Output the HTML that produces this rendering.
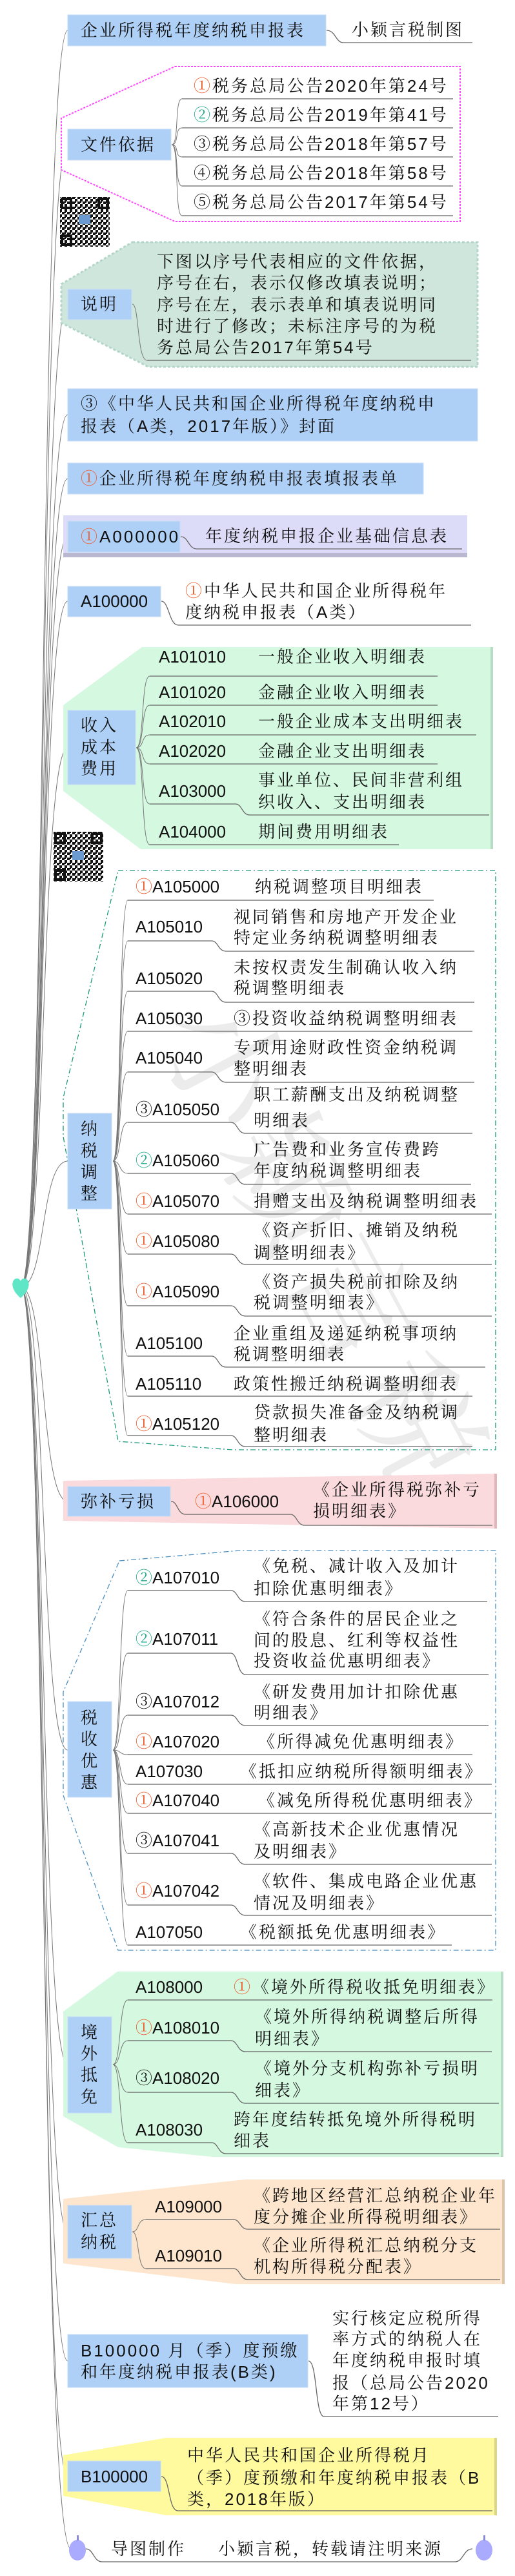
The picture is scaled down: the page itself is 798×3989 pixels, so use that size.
<!DOCTYPE html>
<html><head><meta charset="utf-8">
<style>
html,body{margin:0;padding:0;background:#fff;}
svg{display:block}
text{font-family:"Liberation Sans","Noto Serif CJK SC","Noto Sans CJK SC",serif;font-size:26px;letter-spacing:3px;dominant-baseline:central;fill:#111}
.o{fill:#f05a28}.g{fill:#1aaa88}
.ln{fill:none;stroke:#666;stroke-width:1.3}
.cn{fill:none;stroke:#777;stroke-width:1}
.bx{fill:#afd0f6;stroke:#c8dcf4;stroke-width:1}
</style></head><body>
<svg width="798" height="3989" viewBox="0 0 798 3989" xmlns="http://www.w3.org/2000/svg">
<defs>
<pattern id="qr" width="8" height="8" patternUnits="userSpaceOnUse">
<rect width="8" height="8" fill="#fff"/><rect x="0" y="0" width="4" height="4" fill="#111"/><rect x="4" y="4" width="4" height="4" fill="#111"/><rect x="4" y="0" width="2" height="2" fill="#111"/>
</pattern>
</defs>
<!-- watermark -->
<g fill="#ececec" opacity="0.9">
<text x="0" y="0" transform="translate(300,1560) rotate(62)" style="font-size:200px;fill:#ebebeb;letter-spacing:10px">小颖言税</text>
</g>

<!-- trunk connectors from root -->
<g class="cn">
<path d="M32,1993 C72,1993 62,47 105,47"/>
<path d="M32,1993 C72,1993 62,224 105,224"/>
<path d="M32,1993 C72,1993 62,471 105,471"/>
<path d="M32,1993 C72,1993 62,642 105,642"/>
<path d="M32,1993 C72,1993 62,741 105,741"/>
<path d="M32,1993 C72,1993 62,831 105,831"/>
<path d="M32,1993 C72,1993 62,931 105,931"/>
<path d="M32,1993 C72,1993 62,1158 105,1158"/>
<path d="M32,1993 C72,1993 62,1798 105,1798"/>
<path d="M32,1993 C72,1993 62,2325 105,2325"/>
<path d="M32,1993 C72,1993 62,2710 105,2710"/>
<path d="M32,1993 C72,1993 62,3197 105,3197"/>
<path d="M32,1993 C72,1993 62,3456 105,3456"/>
<path d="M32,1993 C72,1993 62,3656 105,3656"/>
<path d="M32,1993 C72,1993 62,3835 105,3835"/>
<path d="M32,1993 C72,1993 62,3947 110,3947"/>
</g>
<!-- root heart -->
<path d="M32,2010 C20,2000 18,1990 20,1985 C22,1978 30,1978 32,1984 C34,1978 42,1978 44,1985 C46,1990 44,2000 32,2010 Z" fill="#5ee6c6"/>

<!-- title -->
<rect x="105" y="23" width="400" height="48" class="bx"/>
<text x="125" y="47">企业所得税年度纳税申报表</text>
<path class="ln" d="M506,47 C520,47 520,66 532,66 H732"/>
<text x="545" y="46">小颖言税制图</text>

<!-- 文件依据 -->
<polygon points="271,103 713,103 713,343 271,343 95,263 95,183" fill="#fff" stroke="#ff44ff" stroke-width="2" stroke-dasharray="3 2"/>
<rect x="105" y="200" width="160" height="48" class="bx"/>
<text x="125" y="224">文件依据</text>
<g class="cn">
<path d="M266,224 C278,224 270,153 282,153"/><path d="M266,224 C278,224 270,198 282,198"/><path d="M266,224 C278,224 270,243 282,243"/><path d="M266,224 C278,224 270,288 282,288"/><path d="M266,224 C278,224 270,334 282,334"/>
</g>
<g class="ln"><path d="M282,153H702"/><path d="M282,198H702"/><path d="M282,243H702"/><path d="M282,288H702"/><path d="M282,334H702"/></g>
<text x="300" y="133"><tspan class="o">①</tspan>税务总局公告2020年第24号</text>
<text x="300" y="178"><tspan class="g">②</tspan>税务总局公告2019年第41号</text>
<text x="300" y="223">③税务总局公告2018年第57号</text>
<text x="300" y="268">④税务总局公告2018年第58号</text>
<text x="300" y="313">⑤税务总局公告2017年第54号</text>

<!-- QR 1 -->
<rect x="93" y="305" width="77" height="77" fill="url(#qr)"/>
<g fill="none" stroke="#111" stroke-width="4"><rect x="96" y="308" width="14" height="14"/><rect x="153" y="308" width="14" height="14"/><rect x="96" y="365" width="14" height="14"/></g>
<rect x="122" y="333" width="18" height="14" fill="#6a9ad0"/>

<!-- 说明 -->
<polygon points="205,375 740,375 740,568 230,568 95,500 95,440" fill="#cfe6dc" stroke="#b4d6c8" stroke-width="3" stroke-dasharray="4 3"/>
<rect x="105" y="448" width="99" height="47" class="bx"/>
<text x="125" y="471">说明</text>
<path class="cn" d="M205,471 C216,471 212,558 228,558"/>
<path class="ln" d="M228,558H730"/>
<text x="243" y="405">下图以序号代表相应的文件依据，</text>
<text x="243" y="438">序号在右，表示仅修改填表说明；</text>
<text x="243" y="472">序号在左，表示表单和填表说明同</text>
<text x="243" y="505">时进行了修改；未标注序号的为税</text>
<text x="243" y="538">务总局公告2017年第54号</text>

<!-- ③ 封面 -->
<rect x="105" y="602" width="635" height="81" class="bx"/>
<text x="125" y="625">③《中华人民共和国企业所得税年度纳税申</text>
<text x="125" y="660">报表（A类，2017年版）》封面</text>

<!-- 填报表单 -->
<rect x="105" y="717" width="551" height="48" class="bx"/>
<text x="125" y="741"><tspan class="o">①</tspan>企业所得税年度纳税申报表填报表单</text>

<!-- A000000 -->
<rect x="98" y="798" width="626" height="65" fill="#dcdcf8"/>
<rect x="98" y="856" width="626" height="7" fill="#b8b8d0"/>
<rect x="105" y="807" width="174" height="48" class="bx"/>
<text x="125" y="831"><tspan class="o">①</tspan>A000000</text>
<path class="ln" d="M280,831 C292,831 292,850 305,850 H716"/>
<text x="318" y="830">年度纳税申报企业基础信息表</text>

<!-- A100000 -->
<rect x="105" y="908" width="144" height="47" class="bx"/>
<text x="125" y="931" style="letter-spacing:0">A100000</text>
<path class="ln" d="M250,931 C262,931 262,968 276,968 H730"/>
<text x="287" y="915"><tspan class="o">①</tspan>中华人民共和国企业所得税年</text>
<text x="287" y="948">度纳税申报表（A类）</text>

<!-- 收入成本费用 -->
<polygon points="220,1002 763,1002 763,1315 218,1315 98,1225 98,1092" fill="#d4f8e0"/>
<rect x="760" y="1002" width="4" height="313" fill="#b8dcc4"/>
<rect x="105" y="1100" width="105" height="115" class="bx"/>
<text x="125" y="1123">收入</text><text x="125" y="1157">成本</text><text x="125" y="1190">费用</text>
<g class="cn">
<path d="M211,1158 C224,1158 218,1047 232,1047"/><path d="M211,1158 C224,1158 218,1092 232,1092"/><path d="M211,1158 C224,1158 218,1138 232,1138"/><path d="M211,1158 C224,1158 218,1183 232,1183"/><path d="M211,1158 C224,1158 218,1245 232,1245"/><path d="M211,1158 C224,1158 218,1308 232,1308"/>
</g>
<g class="ln"><path d="M232,1047H678"/><path d="M232,1092H678"/><path d="M232,1138H738"/><path d="M232,1183H678"/><path d="M232,1245H365 C375,1245 375,1262 387,1262 H758"/><path d="M232,1308H618"/></g>
<g style="letter-spacing:0">
<text x="246" y="1017" style="letter-spacing:0">A101010</text>
<text x="246" y="1072" style="letter-spacing:0">A101020</text>
<text x="246" y="1117" style="letter-spacing:0">A102010</text>
<text x="246" y="1163" style="letter-spacing:0">A102020</text>
<text x="246" y="1225" style="letter-spacing:0">A103000</text>
<text x="246" y="1288" style="letter-spacing:0">A104000</text>
</g>
<text x="400" y="1017">一般企业收入明细表</text>
<text x="400" y="1072">金融企业收入明细表</text>
<text x="400" y="1117">一般企业成本支出明细表</text>
<text x="400" y="1163">金融企业支出明细表</text>
<text x="400" y="1208">事业单位、民间非营利组</text>
<text x="400" y="1242">织收入、支出明细表</text>
<text x="400" y="1288">期间费用明细表</text>

<!-- QR 2 -->
<rect x="83" y="1288" width="77" height="77" fill="url(#qr)"/>
<g fill="none" stroke="#111" stroke-width="4"><rect x="86" y="1291" width="14" height="14"/><rect x="143" y="1291" width="14" height="14"/><rect x="86" y="1348" width="14" height="14"/></g>
<rect x="112" y="1318" width="18" height="14" fill="#6a9ad0"/>

<!-- 纳税调整 -->
<path d="M183,1348 H768 V2245 H360 L183,2232 L98,1760 L98,1700 Z" fill="none" stroke="#1a9a7a" stroke-width="1.3" stroke-dasharray="8 4 2 4"/>
<rect x="105" y="1724" width="68" height="148" class="bx"/>
<text x="125" y="1748">纳</text><text x="125" y="1782">税</text><text x="125" y="1815">调</text><text x="125" y="1848">整</text>
<g class="cn">
<path d="M175,1798 C188,1798 184,1394 198,1394"/><path d="M175,1798 C188,1798 184,1457 198,1457"/><path d="M175,1798 C188,1798 184,1535 198,1535"/><path d="M175,1798 C188,1798 184,1597 198,1597"/><path d="M175,1798 C188,1798 184,1660 198,1660"/><path d="M175,1798 C188,1798 184,1738 198,1738"/><path d="M175,1798 C188,1798 184,1817 198,1817"/><path d="M175,1798 C188,1798 184,1880 198,1880"/><path d="M175,1798 C188,1798 184,1942 198,1942"/><path d="M175,1798 C188,1798 184,2022 198,2022"/><path d="M175,1798 C188,1798 184,2100 198,2100"/><path d="M175,1798 C188,1798 184,2162 198,2162"/><path d="M175,1798 C188,1798 184,2223 198,2223"/>
</g>
<g class="ln">
<path d="M198,1394H672"/>
<path d="M198,1457H328 C338,1457 338,1473 350,1473 H735"/>
<path d="M198,1535H328 C338,1535 338,1552 350,1552 H735"/>
<path d="M198,1597H732"/>
<path d="M198,1660H328 C338,1660 338,1676 350,1676 H735"/>
<path d="M198,1738H358 C368,1738 368,1755 380,1755 H732"/>
<path d="M198,1817H358 C368,1817 368,1834 380,1834 H730"/>
<path d="M198,1880H762"/>
<path d="M198,1942H358 C368,1942 368,1958 380,1958 H762"/>
<path d="M198,2022H358 C368,2022 368,2038 380,2038 H762"/>
<path d="M198,2100H328 C338,2100 338,2117 350,2117 H752"/>
<path d="M198,2162H732"/>
<path d="M198,2223H358 C368,2223 368,2240 380,2240 H732"/>
</g>
<g>
<text x="210" y="1373" style="letter-spacing:0"><tspan class="o">①</tspan>A105000</text>
<text x="210" y="1435" style="letter-spacing:0">A105010</text>
<text x="210" y="1515" style="letter-spacing:0">A105020</text>
<text x="210" y="1577" style="letter-spacing:0">A105030</text>
<text x="210" y="1638" style="letter-spacing:0">A105040</text>
<text x="210" y="1718" style="letter-spacing:0">③A105050</text>
<text x="210" y="1797" style="letter-spacing:0"><tspan class="g">②</tspan>A105060</text>
<text x="210" y="1860" style="letter-spacing:0"><tspan class="o">①</tspan>A105070</text>
<text x="210" y="1922" style="letter-spacing:0"><tspan class="o">①</tspan>A105080</text>
<text x="210" y="2000" style="letter-spacing:0"><tspan class="o">①</tspan>A105090</text>
<text x="210" y="2080" style="letter-spacing:0">A105100</text>
<text x="210" y="2143" style="letter-spacing:0">A105110</text>
<text x="210" y="2205" style="letter-spacing:0"><tspan class="o">①</tspan>A105120</text>
</g>
<text x="395" y="1373">纳税调整项目明细表</text>
<text x="362" y="1420">视同销售和房地产开发企业</text><text x="362" y="1452">特定业务纳税调整明细表</text>
<text x="362" y="1498">未按权责发生制确认收入纳</text><text x="362" y="1530">税调整明细表</text>
<text x="362" y="1577">③投资收益纳税调整明细表</text>
<text x="362" y="1622">专项用途财政性资金纳税调</text><text x="362" y="1655">整明细表</text>
<text x="393" y="1695">职工薪酬支出及纳税调整</text><text x="393" y="1735">明细表</text>
<text x="393" y="1780">广告费和业务宣传费跨</text><text x="393" y="1813">年度纳税调整明细表</text>
<text x="393" y="1860">捐赠支出及纳税调整明细表</text>
<text x="393" y="1905">《资产折旧、摊销及纳税</text><text x="393" y="1940">调整明细表》</text>
<text x="393" y="1985">《资产损失税前扣除及纳</text><text x="393" y="2017">税调整明细表》</text>
<text x="362" y="2065">企业重组及递延纳税事项纳</text><text x="362" y="2097">税调整明细表</text>
<text x="362" y="2143">政策性搬迁纳税调整明细表</text>
<text x="393" y="2187">贷款损失准备金及纳税调</text><text x="393" y="2222">整明细表</text>

<!-- 弥补亏损 -->
<polygon points="98,2293 770,2282 770,2367 98,2355" fill="#fadadd"/>
<rect x="766" y="2282" width="4" height="85" fill="#e0b8bc"/>
<rect x="105" y="2302" width="159" height="46" class="bx"/>
<text x="125" y="2325">弥补亏损</text>
<path class="ln" d="M265,2325 C276,2325 274,2345 288,2345 H450 C460,2345 460,2362 472,2362 H763"/>
<text x="302" y="2325" style="letter-spacing:0"><tspan class="o">①</tspan>A106000</text>
<text x="485" y="2307">《企业所得税弥补亏</text>
<text x="485" y="2340">损明细表》</text>

<!-- 税收优惠 -->
<path d="M185,2417 L372,2401 H768 V3020 H183 L98,2780 V2620 Z" fill="none" stroke="#4a8fc0" stroke-width="1.3" stroke-dasharray="8 4 2 4"/>
<rect x="105" y="2635" width="68" height="148" class="bx"/>
<text x="125" y="2660">税</text><text x="125" y="2693">收</text><text x="125" y="2727">优</text><text x="125" y="2760">惠</text>
<g class="cn">
<path d="M175,2710 C188,2710 184,2463 198,2463"/><path d="M175,2710 C188,2710 184,2560 198,2560"/><path d="M175,2710 C188,2710 184,2656 198,2656"/><path d="M175,2710 C188,2710 184,2717 198,2717"/><path d="M175,2710 C188,2710 184,2763 198,2763"/><path d="M175,2710 C188,2710 184,2808 198,2808"/><path d="M175,2710 C188,2710 184,2870 198,2870"/><path d="M175,2710 C188,2710 184,2950 198,2950"/><path d="M175,2710 C188,2710 184,3012 198,3012"/>
</g>
<g class="ln">
<path d="M198,2463H358 C368,2463 368,2480 380,2480 H755"/>
<path d="M198,2560H358 C368,2560 368,2593 380,2593 H757"/>
<path d="M198,2656H358 C368,2656 368,2672 380,2672 H757"/>
<path d="M198,2717H732"/>
<path d="M198,2763H762"/>
<path d="M198,2808H762"/>
<path d="M198,2870H358 C368,2870 368,2887 380,2887 H762"/>
<path d="M198,2950H358 C368,2950 368,2966 380,2966 H762"/>
<path d="M198,3012H700"/>
</g>
<text x="210" y="2443" style="letter-spacing:0"><tspan class="g">②</tspan>A107010</text>
<text x="210" y="2538" style="letter-spacing:0"><tspan class="g">②</tspan>A107011</text>
<text x="210" y="2635" style="letter-spacing:0">③A107012</text>
<text x="210" y="2697" style="letter-spacing:0"><tspan class="o">①</tspan>A107020</text>
<text x="210" y="2743" style="letter-spacing:0">A107030</text>
<text x="210" y="2788" style="letter-spacing:0"><tspan class="o">①</tspan>A107040</text>
<text x="210" y="2850" style="letter-spacing:0">③A107041</text>
<text x="210" y="2928" style="letter-spacing:0"><tspan class="o">①</tspan>A107042</text>
<text x="210" y="2992" style="letter-spacing:0">A107050</text>
<text x="393" y="2425">《免税、减计收入及加计</text><text x="393" y="2460">扣除优惠明细表》</text>
<text x="393" y="2507">《符合条件的居民企业之</text><text x="393" y="2540">间的股息、红利等权益性</text><text x="393" y="2572">投资收益优惠明细表》</text>
<text x="393" y="2620">《研发费用加计扣除优惠</text><text x="393" y="2652">明细表》</text>
<text x="400" y="2697">《所得减免优惠明细表》</text>
<text x="372" y="2743">《抵扣应纳税所得额明细表》</text>
<text x="400" y="2788">《减免所得税优惠明细表》</text>
<text x="393" y="2833">《高新技术企业优惠情况</text><text x="393" y="2867">及明细表》</text>
<text x="393" y="2913">《软件、集成电路企业优惠</text><text x="393" y="2947">情况及明细表》</text>
<text x="372" y="2992">《税额抵免优惠明细表》</text>

<!-- 境外抵免 -->
<polygon points="182,3053 780,3053 780,3340 330,3340 183,3325 98,3277 98,3115" fill="#d4f8e0"/>
<rect x="776" y="3053" width="4" height="287" fill="#b8dcc4"/>
<rect x="105" y="3123" width="68" height="149" class="bx"/>
<text x="125" y="3147">境</text><text x="125" y="3180">外</text><text x="125" y="3213">抵</text><text x="125" y="3247">免</text>
<g class="cn">
<path d="M175,3197 C188,3197 184,3097 198,3097"/><path d="M175,3197 C188,3197 184,3160 198,3160"/><path d="M175,3197 C188,3197 184,3240 198,3240"/><path d="M175,3197 C188,3197 184,3318 198,3318"/>
</g>
<g class="ln">
<path d="M198,3097H763"/>
<path d="M198,3160H358 C368,3160 368,3177 380,3177 H762"/>
<path d="M198,3240H358 C368,3240 368,3257 380,3257 H773"/>
<path d="M198,3318H328 C338,3318 338,3335 350,3335 H773"/>
</g>
<text x="210" y="3077" style="letter-spacing:0">A108000</text>
<text x="210" y="3140" style="letter-spacing:0"><tspan class="o">①</tspan>A108010</text>
<text x="210" y="3218" style="letter-spacing:0">③A108020</text>
<text x="210" y="3298" style="letter-spacing:0">A108030</text>
<text x="362" y="3077"><tspan class="o">①</tspan>《境外所得税收抵免明细表》</text>
<text x="395" y="3123">《境外所得纳税调整后所得</text><text x="395" y="3157">明细表》</text>
<text x="395" y="3203">《境外分支机构弥补亏损明</text><text x="395" y="3237">细表》</text>
<text x="362" y="3282">跨年度结转抵免境外所得税明</text><text x="362" y="3315">细表</text>

<!-- 汇总纳税 -->
<polygon points="98,3405 380,3375 782,3375 782,3537 365,3537 98,3505" fill="#fde6cd"/>
<rect x="778" y="3375" width="4" height="162" fill="#dcc4a8"/>
<rect x="105" y="3415" width="99" height="82" class="bx"/>
<text x="125" y="3438">汇总</text><text x="125" y="3472">纳税</text>
<g class="cn"><path d="M205,3456 C216,3456 212,3437 226,3437"/><path d="M205,3456 C216,3456 212,3513 226,3513"/></g>
<g class="ln">
<path d="M226,3437H362 C372,3437 372,3452 384,3452 H775"/>
<path d="M226,3513H362 C372,3513 372,3530 384,3530 H775"/>
</g>
<text x="240" y="3417" style="letter-spacing:0">A109000</text>
<text x="240" y="3493" style="letter-spacing:0">A109010</text>
<text x="393" y="3400">《跨地区经营汇总纳税企业年</text><text x="393" y="3433">度分摊企业所得税明细表》</text>
<text x="393" y="3477">《企业所得税汇总纳税分支</text><text x="393" y="3510">机构所得税分配表》</text>

<!-- B100000 月季 -->
<rect x="105" y="3615" width="372" height="82" class="bx"/>
<text x="125" y="3640">B100000 月（季）度预缴</text>
<text x="125" y="3673">和年度纳税申报表(B类)</text>
<path class="ln" d="M478,3656 C492,3656 488,3742 502,3742 H772"/>
<text x="515" y="3590">实行核定应税所得</text>
<text x="515" y="3622">率方式的纳税人在</text>
<text x="515" y="3655">年度纳税申报时填</text>
<text x="515" y="3690">报（总局公告2020</text>
<text x="515" y="3722">年第12号）</text>

<!-- B100000 yellow -->
<polygon points="98,3802 258,3775 770,3775 770,3895 258,3895 98,3865" fill="#fffa9e"/>
<rect x="766" y="3775" width="4" height="120" fill="#dcd68a"/>
<rect x="105" y="3811" width="144" height="47" class="bx"/>
<text x="125" y="3835" style="letter-spacing:0">B100000</text>
<path class="ln" d="M250,3835 C264,3835 260,3888 276,3888 H763"/>
<text x="290" y="3802">中华人民共和国企业所得税月</text>
<text x="290" y="3837">（季）度预缴和年度纳税申报表（B</text>
<text x="290" y="3870">类，2018年版）</text>

<!-- footer -->
<path class="ln" d="M133,3947 C145,3947 145,3967 158,3967 H705 C718,3967 718,3947 732,3947"/>
<g fill="#aaaaff">
<ellipse cx="120" cy="3949" rx="13" ry="16"/><rect x="119" y="3926" width="3" height="8" fill="#8888dd"/>
<ellipse cx="750" cy="3949" rx="13" ry="16"/><rect x="749" y="3926" width="3" height="8" fill="#8888dd"/>
</g>
<text x="172" y="3947">导图制作</text>
<text x="338" y="3947">小颖言税，转载请注明来源</text>
</svg>
</body></html>
